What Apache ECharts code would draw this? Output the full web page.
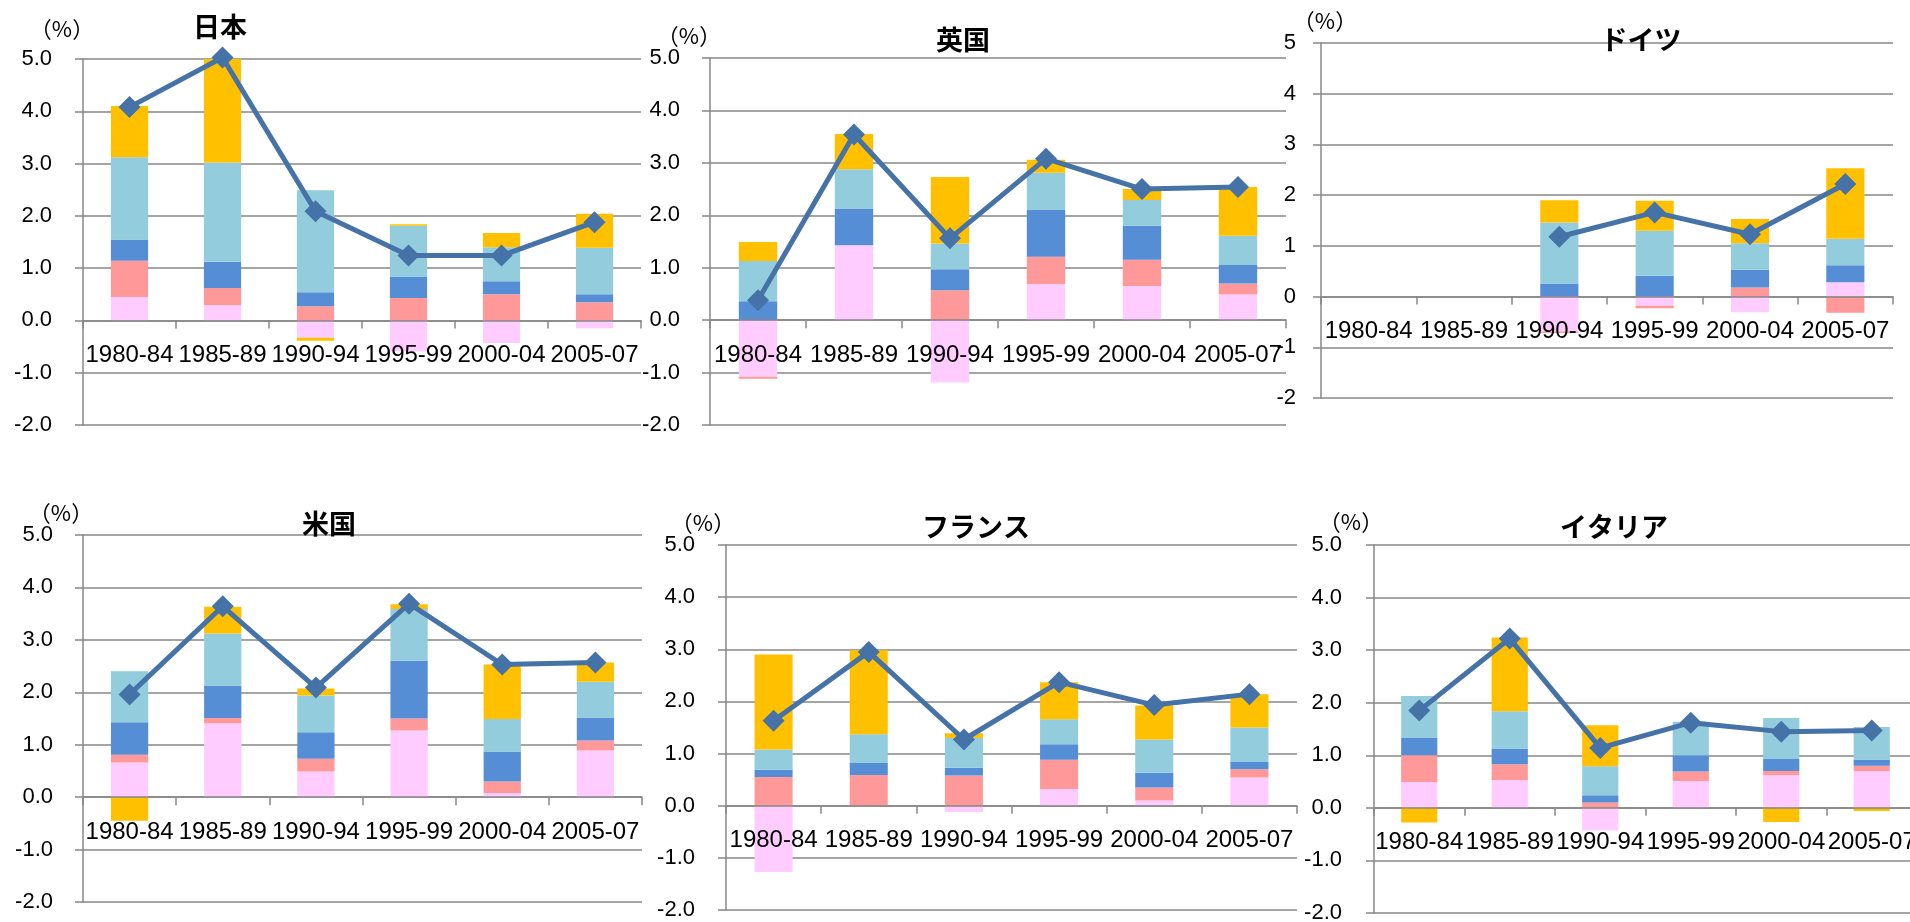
<!DOCTYPE html>
<html>
<head>
<meta charset="utf-8">
<script src="https://cdn.jsdelivr.net/npm/echarts@6/dist/echarts.min.js"></script>
<style>
  html, body { margin: 0; padding: 0; background: #fff; }
  #chart { width: 1910px; height: 922px; }
</style>
</head>
<body>
<div id="chart"></div>
<script>
// Period categories shared by all six panels
const categories = ['1980-84', '1985-89', '1990-94', '1995-99', '2000-04', '2005-07'];

// Y-axis range and step (percent)
const yMin = -2, yMax = 5, yStep = 1;

// Japan: five contribution components and the total growth rate
const jpF1 = [0.45, 0.29, -0.33, -0.59, -0.43, -0.15];
const jpF2 = [0.69, 0.33, 0.27, 0.43, 0.50, 0.35];
const jpF3 = [0.41, 0.50, 0.27, 0.40, 0.25, 0.15];
const jpF4 = [1.57, 1.90, 1.95, 0.98, 0.65, 0.89];
const jpF5 = [0.98, 2.01, -0.06, 0.03, 0.27, 0.65];
const jpTotal = [4.08, 5.03, 2.09, 1.24, 1.24, 1.88];

// United Kingdom
const ukF1 = [-1.08, 1.43, -1.19, 0.69, 0.65, 0.49];
const ukF2 = [-0.04, 0, 0.57, 0.52, 0.50, 0.21];
const ukF3 = [0.36, 0.70, 0.40, 0.89, 0.65, 0.35];
const ukF4 = [0.77, 0.75, 0.49, 0.71, 0.49, 0.56];
const ukF5 = [0.36, 0.67, 1.27, 0.25, 0.21, 0.93];
const ukTotal = [0.38, 3.54, 1.56, 3.08, 2.50, 2.54];

// Germany (no figures before 1990)
const deF1 = [null, null, -0.69, -0.18, -0.31, 0.28];
const deF2 = [null, null, -0.03, -0.05, 0.18, -0.32];
const deF3 = [null, null, 0.26, 0.41, 0.35, 0.34];
const deF4 = [null, null, 1.20, 0.89, 0.52, 0.52];
const deF5 = [null, null, 0.44, 0.59, 0.48, 1.39];
const deTotal = [null, null, 1.18, 1.66, 1.23, 2.22];

// United States
const usF1 = [0.66, 1.41, 0.49, 1.27, 0.08, 0.89];
const usF2 = [0.15, 0.10, 0.24, 0.23, 0.22, 0.19];
const usF3 = [0.62, 0.62, 0.51, 1.10, 0.57, 0.44];
const usF4 = [0.97, 0.99, 0.70, 0.99, 0.62, 0.68];
const usF5 = [-0.45, 0.51, 0.13, 0.09, 1.04, 0.37];
const usTotal = [1.96, 3.64, 2.09, 3.69, 2.53, 2.57];

// France
const frF1 = [-1.27, 0, -0.12, 0.32, 0.10, 0.54];
const frF2 = [0.55, 0.59, 0.58, 0.56, 0.25, 0.16];
const frF3 = [0.14, 0.23, 0.15, 0.30, 0.28, 0.14];
const frF4 = [0.39, 0.55, 0.57, 0.48, 0.64, 0.66];
const frF5 = [1.82, 1.61, 0.09, 0.71, 0.65, 0.64];
const frTotal = [1.63, 2.95, 1.27, 2.37, 1.93, 2.14];

// Italy
const itF1 = [0.49, 0.53, -0.43, 0.51, 0.62, 0.70];
const itF2 = [0.51, 0.30, 0.10, 0.18, 0.08, 0.10];
const itF3 = [0.33, 0.30, 0.14, 0.31, 0.23, 0.12];
const itF4 = [0.80, 0.71, 0.55, 0.64, 0.78, 0.62];
const itF5 = [-0.28, 1.40, 0.78, 0, -0.27, -0.06];
const itTotal = [1.85, 3.22, 1.14, 1.62, 1.45, 1.47];

// Styling
const componentColors = ['#FFCCFF', '#FF9999', '#558ED5', '#93CDDD', '#FFC000'];
const lineColor = '#4572A7';
const axisGray = '#878787';
const labelFont = 'Liberation Sans';
const cjkFont = 'Noto Sans CJK JP';

// Panel layout: plotting area in pixels, title centre, unit-label placement
// (unitShift moves the "（%）" label sideways from the axis line)
const panels = [
  { name: '日本',     comps: [jpF1, jpF2, jpF3, jpF4, jpF5], total: jpTotal,
    grid: { left: 83,   top: 59,  width: 558, height: 366 }, tx: 220,  ty: 27,
    unitGap: 30, unitShift: -21, decimals: 1, yMargin: 31 },
  { name: '英国',     comps: [ukF1, ukF2, ukF3, ukF4, ukF5], total: ukTotal,
    grid: { left: 710,  top: 58,  width: 576, height: 367 }, tx: 963,  ty: 40,
    unitGap: 16, unitShift: -21, decimals: 1, yMargin: 30 },
  { name: 'ドイツ',   comps: [deF1, deF2, deF3, deF4, deF5], total: deTotal,
    grid: { left: 1321, top: 43,  width: 572, height: 355 }, tx: 1641, ty: 40,
    unitGap: 7,  unitShift: 4,   decimals: 0, yMargin: 25 },
  { name: '米国',     comps: [usF1, usF2, usF3, usF4, usF5], total: usTotal,
    grid: { left: 83,   top: 535, width: 559, height: 367 }, tx: 329,  ty: 524,
    unitGap: 16, unitShift: -22, decimals: 1, yMargin: 30 },
  { name: 'フランス', comps: [frF1, frF2, frF3, frF4, frF5], total: frTotal,
    grid: { left: 726,  top: 545, width: 571, height: 365 }, tx: 976,  ty: 527,
    unitGap: 21, unitShift: -23, decimals: 1, yMargin: 31 },
  { name: 'イタリア', comps: [itF1, itF2, itF3, itF4, itF5], total: itTotal,
    grid: { left: 1374, top: 545, width: 543, height: 368 }, tx: 1614, ty: 527,
    unitGap: 23, unitShift: -23, decimals: 1, yMargin: 32 }
];

const grids = [], xAxes = [], yAxes = [], titles = [], series = [];

panels.forEach((p, i) => {
  grids.push(Object.assign({ containLabel: false, outerBoundsMode: 'none' }, p.grid));

  titles.push({
    text: p.name,
    left: p.tx,
    top: p.ty - 14,
    textAlign: 'center',
    padding: 0,
    textStyle: { fontFamily: cjkFont, fontSize: 27, fontWeight: 'bold', color: '#000' }
  });

  // The category axis (line, ticks and labels together) sits on the value 0 line:
  // shift it up from the grid bottom by the share of the range below zero.
  const zeroShift = -p.grid.height * (0 - yMin) / (yMax - yMin);

  // Centre-aligned unit label, pushed sideways by asymmetric padding
  const unitPad = p.unitShift < 0 ? [0, -2 * p.unitShift, 0, 0] : [0, 0, 0, 2 * p.unitShift];

  xAxes.push({
    type: 'category',
    gridIndex: i,
    data: categories,
    position: 'bottom',
    offset: zeroShift,
    z: 10,
    axisLine: { show: true, onZero: false, lineStyle: { color: axisGray, width: 1.5 } },
    axisTick: { show: true, length: 8, lineStyle: { color: axisGray, width: 1.5 } },
    axisLabel: { interval: 0, margin: 23, color: '#000', fontFamily: labelFont, fontSize: 24 },
    splitLine: { show: false }
  });

  yAxes.push({
    type: 'value',
    gridIndex: i,
    min: yMin,
    max: yMax,
    interval: yStep,
    name: '（%）',
    nameLocation: 'end',
    nameGap: p.unitGap,
    nameTextStyle: {
      fontFamily: cjkFont, fontSize: 22, color: '#000',
      align: 'center', verticalAlign: 'middle', padding: unitPad
    },
    axisLine: { show: true, lineStyle: { color: axisGray, width: 1.5 } },
    axisTick: { show: true, length: 8, lineStyle: { color: axisGray, width: 1.5 } },
    axisLabel: {
      margin: p.yMargin, color: '#000', fontFamily: labelFont, fontSize: 22,
      formatter: v => v.toFixed(p.decimals)
    },
    splitLine: { show: true, lineStyle: { color: axisGray, width: 1.5 } }
  });

  p.comps.forEach((vals, k) => {
    series.push({
      type: 'bar',
      xAxisIndex: i,
      yAxisIndex: i,
      stack: 'panel' + i,
      stackStrategy: 'samesign',
      data: vals,
      barWidth: '40%',
      itemStyle: { color: componentColors[k] },
      silent: true
    });
  });

  series.push({
    type: 'line',
    xAxisIndex: i,
    yAxisIndex: i,
    data: p.total,
    clip: false,
    z: 5,
    symbol: 'diamond',
    symbolSize: 22,
    lineStyle: { color: lineColor, width: 5 },
    itemStyle: { color: lineColor },
    silent: true
  });
});

const chart = echarts.init(document.getElementById('chart'), null, { renderer: 'canvas' });
chart.setOption({
  animation: false,
  backgroundColor: '#fff',
  title: titles,
  grid: grids,
  xAxis: xAxes,
  yAxis: yAxes,
  series: series
});
</script>
</body>
</html>
